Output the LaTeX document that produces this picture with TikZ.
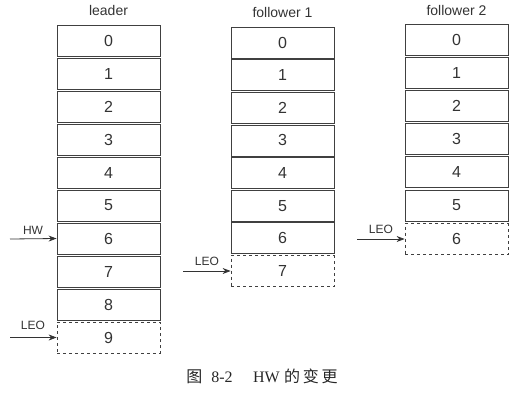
\documentclass[tikz,border=0pt]{standalone}
\usepackage{fontspec}
\setmainfont{Liberation Sans}
\newfontfamily\capfont{Liberation Serif}
\newfontfamily\cjk{Noto Sans CJK SC}
\usepackage{tikz}
\usetikzlibrary{arrows.meta}

\begin{document}
\begin{tikzpicture}[x=1pt, y=-1pt,
  cell/.style={draw=black!75, line width=0.9pt, minimum width=103pt, minimum height=31pt, inner sep=0pt, text=black!80, font=\fontsize{16}{16}\selectfont},
  lastcell/.style={cell, dashed, line width=0.8pt},
  head/.style={text=black!80, font=\fontsize{14}{14}\selectfont},
  ptr/.style={draw=black!80, line width=0.8pt, -{Stealth[length=8pt, width=6pt]}},
  ptrlabel/.style={text=black!80, font=\fontsize{12}{12}\selectfont}]
\useasboundingbox (0,0) rectangle (525,402);
% leader
\node[head] (Leader) at (108.5,10) {leader};
\foreach \i in {0,...,8}\node[cell] (L\i) at (108.5,40.5+33*\i) {\i};
\node[lastcell] (L9) at (108.5,337.5) {9};
% follower 1
\node[head] (Follower1) at (282.5,12) {follower 1};
\foreach \i in {0,...,6}\node[cell] (F\i) at (282.5,42.5+32.65*\i) {\i};
\node[lastcell] (F7) at (282.5,271) {7};
% follower 2
\node[head] (Follower2) at (456.5,10) {follower 2};
\foreach \i in {0,...,5}\node[cell] (G\i) at (456.5,39.5+33.2*\i) {\i};
\node[lastcell] (G6) at (456.5,239) {6};
% pointers
\coordinate (HWL) at (10,239);   \node[ptrlabel] (Label) at (33,230){HW};  \draw[ptr] (HWL) -- (L6.west);
\coordinate (LEOL) at (10,337.5); \node[ptrlabel] (Label) at (33,325){LEO}; \draw[ptr] (LEOL) -- (L9.west);
\coordinate (LEOF) at (183,271); \node[ptrlabel] (Label) at (207,261){LEO}; \draw[ptr] (LEOF) -- (F7.west);
\coordinate (LEOG) at (357,239); \node[ptrlabel] (Label) at (381,229){LEO}; \draw[ptr] (LEOG) -- (G6.west);
% caption
\node[text=black!85, font=\fontsize{16}{16}\selectfont] (Caption) at (262,376) {{\cjk 图}\ \ {\capfont 8-2}\quad\ {\capfont HW}\ {\cjk 的\,变\,更}};
\end{tikzpicture}
\end{document}
